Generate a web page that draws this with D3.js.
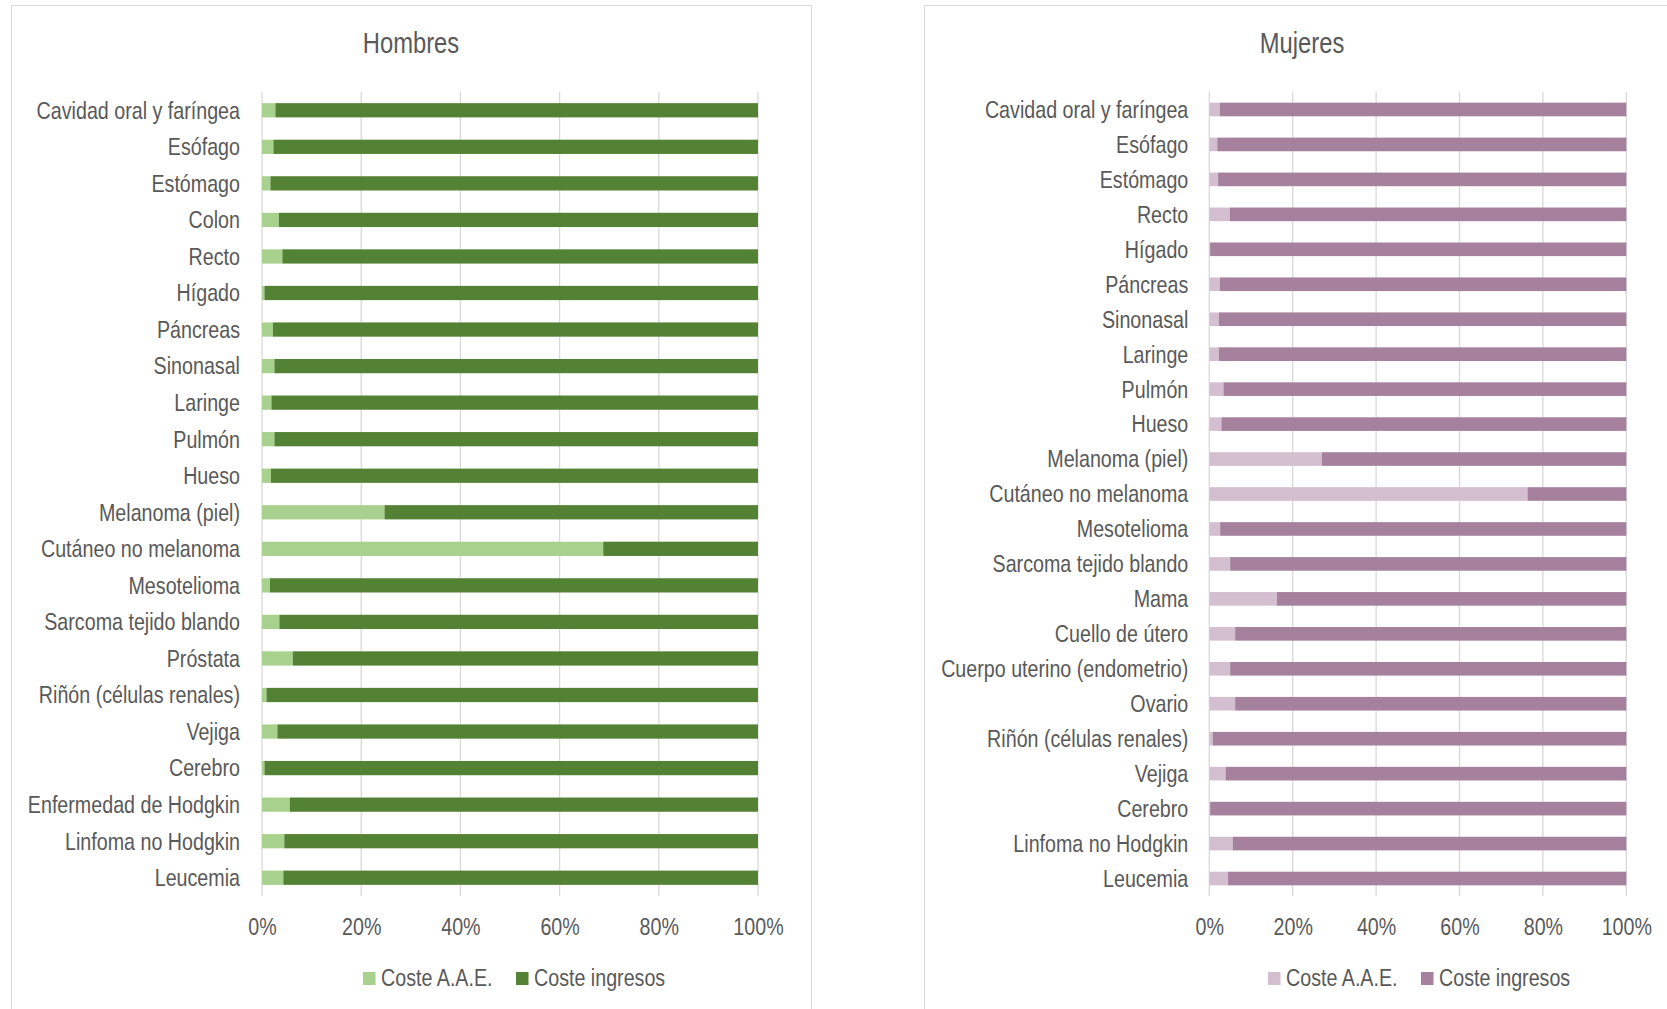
<!DOCTYPE html>
<html>
<head>
<meta charset="utf-8">
<script src="https://cdn.jsdelivr.net/npm/d3@7/dist/d3.min.js"></script>
<style>
  html, body { margin: 0; padding: 0; background: #ffffff; }
  svg { display: block; }
  text { font-family: "Liberation Sans Narrow", "Arial Narrow", "Liberation Sans", Arial, sans-serif; fill: #595959; }
</style>
</head>
<body>
<svg id="chart" width="1667" height="1009"></svg>
<script>
// ---------- DATA ----------
const seriesNames = ["Coste A.A.E.", "Coste ingresos"];
const tickValues = [0, 20, 40, 60, 80, 100];
const tickLabels = ["0%", "20%", "40%", "60%", "80%", "100%"];

const menCategories = [
  "Cavidad oral y faríngea", "Esófago", "Estómago", "Colon", "Recto", "Hígado",
  "Páncreas", "Sinonasal", "Laringe", "Pulmón", "Hueso", "Melanoma (piel)",
  "Cutáneo no melanoma", "Mesotelioma", "Sarcoma tejido blando", "Próstata",
  "Riñón (células renales)", "Vejiga", "Cerebro", "Enfermedad de Hodgkin",
  "Linfoma no Hodgkin", "Leucemia"
];
const menAAE = [2.7, 2.3, 1.7, 3.4, 4.1, 0.5, 2.2, 2.5, 1.9, 2.5, 1.8, 24.7,
                68.8, 1.6, 3.5, 6.2, 0.9, 3.1, 0.5, 5.6, 4.5, 4.3];
const menIngresos = [97.3, 97.7, 98.3, 96.6, 95.9, 99.5, 97.8, 97.5, 98.1, 97.5, 98.2, 75.3,
                     31.2, 98.4, 96.5, 93.8, 99.1, 96.9, 99.5, 94.4, 95.5, 95.7];

const womenCategories = [
  "Cavidad oral y faríngea", "Esófago", "Estómago", "Recto", "Hígado", "Páncreas",
  "Sinonasal", "Laringe", "Pulmón", "Hueso", "Melanoma (piel)", "Cutáneo no melanoma",
  "Mesotelioma", "Sarcoma tejido blando", "Mama", "Cuello de útero",
  "Cuerpo uterino (endometrio)", "Ovario", "Riñón (células renales)", "Vejiga",
  "Cerebro", "Linfoma no Hodgkin", "Leucemia"
];
const womenAAE = [2.5, 1.9, 2.1, 4.9, 0.2, 2.5, 2.3, 2.3, 3.4, 2.9, 27.0, 76.3,
                  2.6, 5.0, 16.2, 6.2, 5.0, 6.2, 0.8, 3.9, 0.2, 5.6, 4.5];
const womenIngresos = [97.5, 98.1, 97.9, 95.1, 99.8, 97.5, 97.7, 97.7, 96.6, 97.1, 73.0, 23.7,
                       97.4, 95.0, 83.8, 93.8, 95.0, 93.8, 99.2, 96.1, 99.8, 94.4, 95.5];

// ---------- DRAW ----------
const svg = d3.select("#chart");
const NARROW = 0.82;   // horizontal compression to mimic a narrow typeface

// turn each text's (x, y) into a translate + horizontal squeeze
function narrow(sel) {
  sel.each(function () {
    const t = d3.select(this);
    const x = +t.attr("x") || 0;
    const y = +t.attr("y") || 0;
    t.attr("x", 0).attr("y", 0)
     .attr("transform", `translate(${x},${y}) scale(${NARROW},1)`);
  });
}

function drawPanel(cfg) {
  const g = svg.append("g");

  // panel border
  g.append("rect")
    .attr("x", cfg.frame[0] + 0.5).attr("y", cfg.frame[1] + 0.5)
    .attr("width", cfg.frame[2]).attr("height", cfg.frame[3])
    .attr("fill", "none").attr("stroke", "#D9D9D9").attr("stroke-width", 1);

  // title
  g.append("text")
    .attr("x", cfg.titleX).attr("y", 53)
    .attr("text-anchor", "middle")
    .style("font-size", "29px")
    .text(cfg.title)
    .call(narrow);

  const x = d3.scaleLinear().domain([0, 100]).range([cfg.x0, cfg.x1]);
  const y = d3.scaleBand().domain(cfg.categories).range([92, 896])
    .paddingInner(0.61).paddingOuter(0.305);

  // gridlines
  g.append("g").selectAll("line")
    .data(tickValues)
    .join("line")
    .attr("x1", d => x(d)).attr("x2", d => x(d))
    .attr("y1", 91.5).attr("y2", 896)
    .attr("stroke", "#D9D9D9").attr("stroke-width", 1.3);

  // stacked bars
  const rows = cfg.categories.map((c, i) => ({ cat: c, a: cfg.aae[i], b: cfg.ingresos[i] }));
  const stacked = d3.stack().keys(["a", "b"])(rows);
  g.append("g").selectAll("g")
    .data(stacked)
    .join("g")
    .attr("fill", (d, i) => cfg.colors[i])
    .selectAll("rect")
    .data(d => d)
    .join("rect")
    .attr("x", d => x(d[0]))
    .attr("width", d => Math.max(0, x(d[1]) - x(d[0])))
    .attr("y", d => y(d.data.cat))
    .attr("height", y.bandwidth());

  const fontStack = '"Liberation Sans Narrow", "Arial Narrow", "Liberation Sans", Arial, sans-serif';

  // y axis labels
  const yAxis = g.append("g")
    .attr("transform", `translate(${cfg.x0},0)`)
    .call(d3.axisLeft(y).tickSize(0).tickPadding(cfg.labelPad));
  yAxis.select(".domain").remove();
  yAxis.selectAll("text")
    .attr("dy", "0.35em")
    .style("font-size", "24px")
    .style("fill", "#595959")
    .style("font-family", fontStack)
    .call(narrow);

  // x axis labels
  const xAxis = g.append("g")
    .attr("transform", "translate(0,896)")
    .call(d3.axisBottom(x).tickValues(tickValues).tickSize(0)
      .tickFormat((d, i) => tickLabels[i]));
  xAxis.select(".domain").remove();
  xAxis.selectAll("text")
    .attr("y", 39).attr("dy", 0)
    .style("font-size", "24px")
    .style("fill", "#595959")
    .style("font-family", fontStack)
    .call(narrow);

  // legend
  const leg = g.append("g");
  seriesNames.forEach((name, i) => {
    leg.append("rect")
      .attr("x", cfg.legendX[i]).attr("y", 972)
      .attr("width", 12.5).attr("height", 13)
      .attr("fill", cfg.colors[i]);
    leg.append("text")
      .attr("x", cfg.legendX[i] + 18).attr("y", 986)
      .style("font-size", "24px")
      .text(name)
      .call(narrow);
  });
}

drawPanel({
  title: "Hombres",
  frame: [11, 5, 800, 1100],
  titleX: 411,
  x0: 262, x1: 758,
  labelPad: 22,
  categories: menCategories,
  aae: menAAE,
  ingresos: menIngresos,
  colors: ["#A9D18E", "#548235"],
  legendX: [363, 516]
});

drawPanel({
  title: "Mujeres",
  frame: [924, 5, 800, 1100],
  titleX: 1302,
  x0: 1209.3, x1: 1626.3,
  labelPad: 21,
  categories: womenCategories,
  aae: womenAAE,
  ingresos: womenIngresos,
  colors: ["#D4BFD1", "#A6819E"],
  legendX: [1268, 1421]
});
</script>
</body>
</html>
